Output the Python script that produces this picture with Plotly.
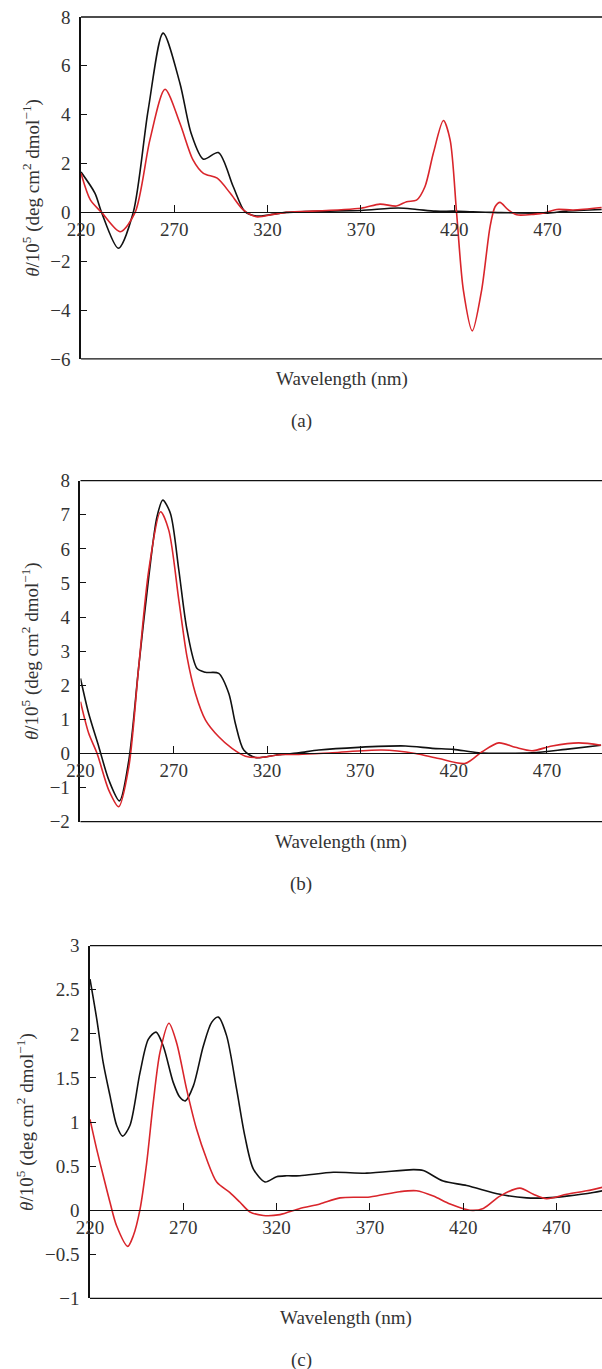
import plotly.graph_objects as go

# panel (a)
wl_a_black = [220, 227.5, 231, 240, 248, 256, 264, 273, 279, 285.6, 293.6, 301.6, 307.8, 314, 321, 330,
              350, 370, 390, 400, 410, 420, 430, 440, 470, 480, 499]
cd_a_black = [1.65, 0.78, 0.0, -1.47, 0.0, 4.2, 7.34, 5.29, 3.24, 2.18, 2.45, 1.05, 0.03, -0.15, -0.1, 0.0,
              0.05, 0.08, 0.18, 0.12, 0.05, 0.05, 0.02, 0.0, -0.03, 0.05, 0.12]
wl_a_red = [220, 225, 231, 241, 249, 257, 265, 273, 280, 285.6, 293, 300, 307, 314, 323, 330, 337.4,
            370, 380.2, 389, 394.5, 399.8, 404.3, 408.8, 414.2, 417.8, 421.3, 424.9, 429.7, 434.7, 439.2,
            441.9, 444.5, 449, 453.5, 462.4, 469.5, 474.9, 483.8, 499]
cd_a_red = [1.6, 0.51, 0.0, -0.79, 0.0, 3.0, 5.04, 3.65, 2.15, 1.6, 1.4, 0.78, 0.1, -0.18, -0.08, 0.0, 0.03,
            0.17, 0.34, 0.26, 0.44, 0.5, 1.05, 2.42, 3.76, 2.97, -0.04, -3.18, -4.85, -3.18, -0.59,
            0.23, 0.41, 0.1, -0.1, -0.08, 0.0, 0.12, 0.1, 0.2]

# panel (b)
wl_b_black = [220, 224.4, 229.8, 235.2, 240.9, 245.9, 251.2, 256.6, 261, 264.1, 268.2, 272.7, 277.1, 282.5,
              287, 294.1, 299.5, 303, 307.5, 313.8, 324.5, 337, 347.7, 369, 394.2, 408.5, 420, 433.4, 462,
              480, 499]
cd_b_black = [2.2, 1.17, 0.2, -0.78, -1.39, -0.2, 2.54, 5.18, 6.94, 7.43, 7.04, 5.38, 3.62, 2.49,
              2.38, 2.35, 1.76, 0.88, 0.1, -0.12, -0.05, 0.02, 0.1, 0.18, 0.22, 0.15, 0.12, 0.02, 0.02,
              0.12, 0.24]
wl_b_red = [220, 224.4, 228.9, 235.2, 240.5, 245.9, 251.2, 256.6, 262.9, 267.3, 272.7, 277.1, 281.6, 287,
            294.1, 301.2, 308.4, 315.5, 328, 337, 355, 381.6, 399.5, 412, 426.3, 435.2, 444.2, 453, 462,
            472.7, 487, 499]
cd_b_red = [1.52, 0.59, 0.0, -1.08, -1.56, -0.39, 2.54, 5.38, 7.09, 6.55, 4.5, 2.83, 1.76, 0.98,
            0.49, 0.15, -0.08, -0.12, -0.03, -0.03, 0.02, 0.1, 0.0, -0.15, -0.29, 0.05, 0.31, 0.18, 0.08,
            0.22, 0.31, 0.24]

# panel (c)
wl_c_black = [220, 223.6, 227.1, 230.7, 234.3, 237.5, 241.4, 246.8, 251.3, 255.4, 259.3, 264.6, 268.2,
              271.1, 275.4, 280.7, 285.2, 288.8, 293.2, 298.6, 303, 307.5, 313.8, 320, 325.4, 332.5,
              350.4, 368.3, 393.3, 398.6, 409.3, 421.9, 439.7, 454, 464.7, 475.5, 489.7, 494.5]
cd_c_black = [2.62, 2.17, 1.67, 1.3, 0.96, 0.84, 0.96, 1.56, 1.94, 2.02, 1.86, 1.45, 1.28,
              1.24, 1.41, 1.86, 2.13, 2.19, 1.98, 1.37, 0.84, 0.47, 0.32, 0.38, 0.39, 0.39,
              0.43, 0.42, 0.46, 0.45, 0.33, 0.28, 0.18, 0.14, 0.14, 0.16, 0.2, 0.22]
wl_c_red = [220, 223.6, 227.1, 230.7, 234.3, 240.2, 243.2, 246.8, 250.4, 253.9, 257.5, 262.3, 266.4, 271.8,
            277.1, 282.5, 287.9, 295, 300.4, 305.7, 312.9, 321.8, 332.5, 343.2, 354, 370, 386, 395, 404,
            413, 423.6, 430.8, 439.7, 450.4, 457.6, 464.7, 475.5, 486.2, 494.5]
cd_c_red = [1.03, 0.69, 0.39, 0.09, -0.18, -0.41, -0.29, 0.01, 0.54, 1.22, 1.79, 2.12, 1.9, 1.37,
            0.92, 0.58, 0.32, 0.2, 0.09, -0.02, -0.06, -0.05, 0.02, 0.07, 0.14, 0.15, 0.21, 0.22, 0.16,
            0.07, 0.0, 0.02, 0.16, 0.25, 0.18, 0.13, 0.18, 0.22, 0.26]

panels = [
    ("(a)", wl_a_black, cd_a_black, wl_a_red, cd_a_red, [220, 499.2], [-6, 8], 2, 0.1346, [0.7378, 0.9876]),
    ("(b)", wl_b_black, cd_b_black, wl_b_red, cd_b_red, [220, 499.5], [-2, 8], 1, 0.1337, [0.3998, 0.6489]),
    ("(c)", wl_c_black, cd_c_black, wl_c_red, cd_c_red, [220, 494.4], [-1, 3], 0.5, 0.1495, [0.0516, 0.3092]),
]

FONT = "Liberation Serif"
TEXT = "#333333"
BLACK = "#111111"
RED = "#d9252b"
H = 1369

fig = go.Figure()
layout = {}
for i, (tag, xb, yb, xr, yr, xrng, yrng, dy, x0, ydom) in enumerate(panels):
    n = "" if i == 0 else str(i + 1)
    xa, ya = "x" + n, "y" + n
    fig.add_trace(go.Scatter(x=xb, y=yb, mode="lines", line=dict(color=BLACK, width=1.6, shape="spline", smoothing=0.8),
                             xaxis=xa, yaxis=ya, showlegend=False))
    fig.add_trace(go.Scatter(x=xr, y=yr, mode="lines", line=dict(color=RED, width=1.6, shape="spline", smoothing=0.8),
                             xaxis=xa, yaxis=ya, showlegend=False))
    # x axis sits on the zero line
    pos = ydom[0] + (0 - yrng[0]) / (yrng[1] - yrng[0]) * (ydom[1] - ydom[0])
    layout["xaxis" + n] = dict(
        domain=[x0, 1], range=xrng, anchor="free", position=pos, automargin=False,
        tickvals=[220, 270, 320, 370, 420, 470], ticks="inside", ticklen=7, tickwidth=1.2,
        tickcolor=BLACK, showline=True, linecolor=BLACK, linewidth=1.3,
        showgrid=False, zeroline=False, tickfont=dict(family=FONT, size=19, color=TEXT),
    )
    layout["yaxis" + n] = dict(
        domain=ydom, range=yrng, anchor=xa, dtick=dy, ticks="inside", ticklen=6, tickwidth=1.2,
        tickcolor=BLACK, showline=True, linecolor=BLACK, linewidth=1.6, showgrid=False,
        zeroline=False, tickfont=dict(family=FONT, size=19, color=TEXT), ticklabelstandoff=5,
        automargin=False,
        title=dict(text="<i>θ</i>/10<sup>5</sup> (deg cm<sup>2</sup> dmol<sup>−1</sup>)",
                   font=dict(family=FONT, size=19, color=TEXT), standoff=6),
    )
    # top and bottom frame lines
    for yy in (0, 1):
        fig.add_shape(type="line", xref=xa + " domain", yref=ya + " domain", x0=0, x1=1, y0=yy, y1=yy,
                      line=dict(color=BLACK, width=1.3))
    fig.add_annotation(text="Wavelength (nm)", xref="paper", yref="paper", x=(x0 + 1) / 2,
                       y=ydom[0] - 20 / H, yanchor="middle", showarrow=False,
                       font=dict(family=FONT, size=19, color=TEXT))
    fig.add_annotation(text=tag, xref="paper", yref="paper", x=0.5,
                       y=ydom[0] - 62 / H, yanchor="middle", showarrow=False,
                       font=dict(family=FONT, size=19, color=TEXT))

fig.update_layout(**layout)
fig.update_layout(width=602, height=H, margin=dict(l=0, r=0, t=0, b=0),
                  plot_bgcolor="white", paper_bgcolor="white")
fig.write_html("out.html", config={"displayModeBar": False},
               post_script="document.body.style.margin='0';")
